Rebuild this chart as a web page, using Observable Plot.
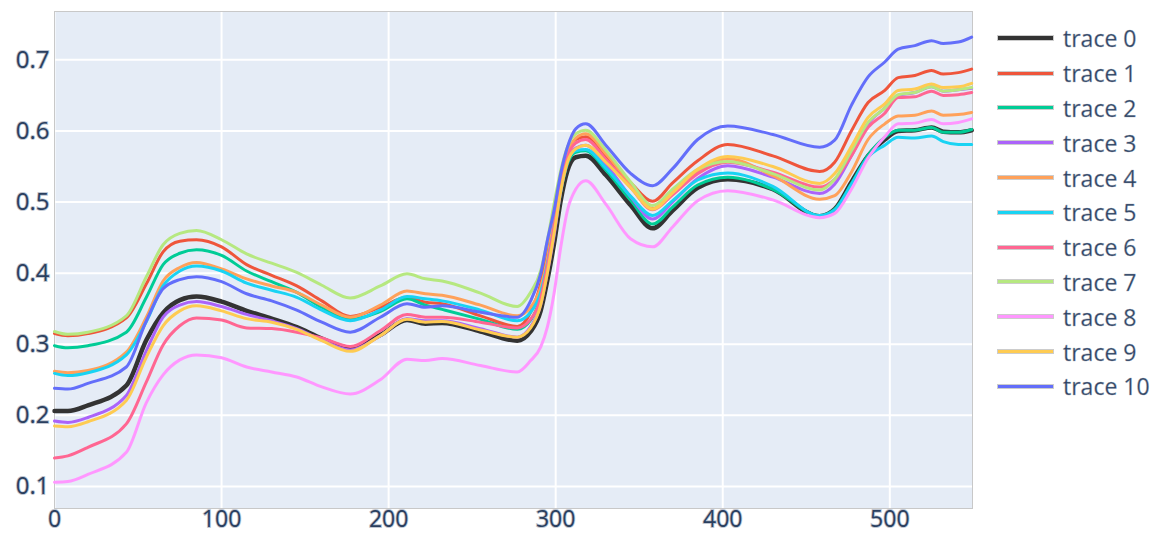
<!DOCTYPE html>
<html><head><meta charset="utf-8">
<script src="https://cdn.jsdelivr.net/npm/d3@7"></script>
<script src="https://cdn.jsdelivr.net/npm/@observablehq/plot@0.6"></script>
<style>
body{margin:0;background:#fff;}
#wrap{position:relative;width:1156px;height:533px;font-family:"Open Sans",sans-serif;}
#wrap svg text{paint-order:stroke;stroke:rgba(150,160,178,0.6);stroke-width:1.8px;}
.item{position:absolute;left:998px;height:34px;display:flex;align-items:center;white-space:nowrap;}
.swatch{width:55px;height:0;border-top-style:solid;box-shadow:0 0 0 1px rgba(170,170,170,0.6);}
.label{margin-left:10px;font-size:23px;color:#2a3f5f;-webkit-text-stroke:0.6px rgba(150,160,178,0.7);}
</style></head>
<body><div id="wrap"></div>
<script>
const xs = [0, 8, 20, 43, 55, 65, 75, 85, 100, 115, 130, 145, 160, 177, 195, 211, 222, 232, 255, 277, 285, 291, 295, 299, 303, 307, 312, 318, 330, 345, 358, 370, 385, 403, 430, 458, 467, 477, 487, 497, 505, 515, 525, 532, 541, 549];
const trace0 = [.206,.206,.214,.242,.306,.344,.362,.367,.360,.347,.336,.324,.308,.295,.313,.334,.329,.330,.318,.305,.318,.347,.390,.441,.502,.544,.563,.565,.538,.495,.463,.488,.520,.532,.518,.480,.490,.528,.565,.588,.600,.601,.605,.599,.598,.601];
const trace1 = [.315,.312,.315,.337,.385,.430,.445,.447,.437,.412,.397,.382,.361,.339,.352,.366,.359,.357,.340,.325,.345,.385,.430,.482,.535,.570,.588,.592,.565,.527,.501,.527,.558,.581,.565,.543,.556,.600,.640,.657,.675,.678,.685,.680,.682,.687];
const trace2 = [.298,.295,.298,.317,.366,.412,.428,.433,.425,.403,.388,.373,.352,.335,.346,.364,.355,.349,.335,.321,.334,.366,.405,.455,.514,.553,.570,.572,.545,.502,.469,.493,.524,.535,.518,.481,.490,.526,.566,.591,.601,.601,.605,.598,.598,.602];
const trace3 = [.192,.190,.197,.228,.291,.338,.355,.360,.353,.342,.333,.322,.306,.292,.312,.336,.333,.333,.322,.310,.325,.355,.400,.452,.515,.556,.576,.580,.553,.507,.476,.500,.533,.551,.535,.512,.525,.565,.610,.632,.650,.654,.662,.656,.658,.660];
const trace4 = [.262,.260,.263,.289,.338,.389,.408,.415,.406,.392,.382,.373,.355,.338,.355,.375,.371,.369,.355,.340,.352,.380,.420,.475,.530,.566,.590,.596,.568,.525,.491,.513,.543,.561,.537,.504,.509,.542,.588,.610,.621,.622,.628,.622,.623,.626];
const trace5 = [.259,.256,.260,.285,.332,.382,.403,.410,.403,.386,.376,.366,.348,.333,.348,.367,.364,.361,.348,.333,.345,.373,.413,.465,.522,.558,.572,.574,.548,.508,.481,.502,.531,.541,.522,.481,.489,.525,.563,.580,.591,.590,.593,.585,.581,.581];
const trace6 = [.140,.143,.155,.188,.247,.299,.326,.337,.334,.323,.322,.317,.309,.297,.319,.342,.338,.338,.331,.323,.335,.365,.410,.465,.525,.563,.583,.588,.560,.520,.489,.510,.540,.556,.542,.521,.532,.565,.605,.625,.647,.648,.656,.650,.651,.654];
const trace7 = [.318,.314,.317,.340,.395,.440,.456,.460,.447,.427,.414,.401,.383,.365,.382,.399,.392,.389,.372,.353,.373,.403,.446,.497,.544,.577,.596,.601,.573,.528,.495,.518,.546,.557,.540,.517,.532,.572,.612,.632,.651,.654,.662,.656,.658,.661];
const trace8 = [.106,.107,.117,.148,.218,.257,.278,.285,.281,.268,.261,.254,.240,.230,.250,.279,.277,.280,.270,.261,.277,.296,.324,.371,.436,.488,.518,.530,.497,.448,.437,.465,.502,.516,.503,.478,.484,.518,.562,.592,.610,.611,.616,.610,.612,.617];
const trace9 = [.185,.184,.191,.221,.282,.326,.347,.354,.347,.336,.331,.321,.305,.290,.312,.335,.331,.332,.320,.310,.323,.355,.400,.455,.515,.556,.575,.580,.556,.520,.490,.513,.546,.564,.550,.526,.540,.578,.619,.638,.657,.659,.666,.661,.662,.667];
const trace10 = [.238,.237,.245,.268,.333,.378,.391,.395,.388,.371,.361,.348,.331,.317,.338,.357,.352,.354,.345,.338,.361,.399,.446,.488,.540,.577,.603,.610,.580,.540,.523,.547,.588,.607,.595,.577,.587,.636,.676,.697,.715,.720,.727,.723,.725,.732];

const names = ["trace 0","trace 1","trace 2","trace 3","trace 4","trace 5","trace 6","trace 7","trace 8","trace 9","trace 10"];
const colors = ["#333333","#EF553B","#00CC96","#AB63FA","#FFA15A","#19D3F3","#FF6692","#B6E880","#FF97FF","#FECB52","#636EFA"];
const xTicks = [0, 100, 200, 300, 400, 500];
const yTicks = [0.1, 0.2, 0.3, 0.4, 0.5, 0.6, 0.7];

const series = [trace0, trace1, trace2, trace3, trace4, trace5, trace6, trace7, trace8, trace9, trace10];
const data = series.flatMap((vals, i) => vals.map((v, j) => ({x: xs[j], y: v, name: names[i]})));
const first = data.filter(d => d.name === names[0]);
const rest = data.filter(d => d.name !== names[0]);

const chart = Plot.plot({
  width: 1156, height: 533,
  marginLeft: 54, marginRight: 184, marginTop: 11, marginBottom: 25,
  x: {domain: [0, 549.5]},
  y: {domain: [0.069, 0.768]},
  color: {domain: names, range: colors},
  style: {fontFamily: '"Open Sans", sans-serif', fontSize: "23px", color: "#2a3f5f", background: "#fff", overflow: "visible"},
  marks: [
    Plot.frame({fill: "#E5ECF6", stroke: null}),
    Plot.gridX(xTicks, {stroke: "#fff", strokeOpacity: 1, strokeWidth: 2}),
    Plot.gridY(yTicks, {stroke: "#fff", strokeOpacity: 1, strokeWidth: 2}),
    Plot.frame({stroke: "#c8c8c8", strokeWidth: 1}),
    Plot.axisX(xTicks, {tickSize: 0, tickPadding: 2, fontSize: 23, label: null, tickFormat: d3.format("d")}),
    Plot.axisY(yTicks, {tickSize: 0, tickPadding: 5, fontSize: 24, label: null, tickFormat: d3.format(".1f")}),
    Plot.line(first, {x: "x", y: "y", z: "name", stroke: "name", curve: "monotone-x", strokeWidth: 4.5}),
    Plot.line(rest, {x: "x", y: "y", z: "name", stroke: "name", curve: "monotone-x", strokeWidth: 3})
  ]
});
const wrap = document.getElementById("wrap");
wrap.appendChild(chart);

names.forEach((n, i) => {
  const item = document.createElement("div");
  item.className = "item";
  item.style.top = (38.3 + i * 34.8 - 17) + "px";
  const sw = document.createElement("div");
  sw.className = "swatch";
  sw.style.borderTopColor = colors[i];
  sw.style.borderTopWidth = (i === 0 ? 4 : 3) + "px";
  const lb = document.createElement("span");
  lb.className = "label";
  lb.textContent = n;
  item.appendChild(sw);
  item.appendChild(lb);
  wrap.appendChild(item);
});
</script>
</body></html>
